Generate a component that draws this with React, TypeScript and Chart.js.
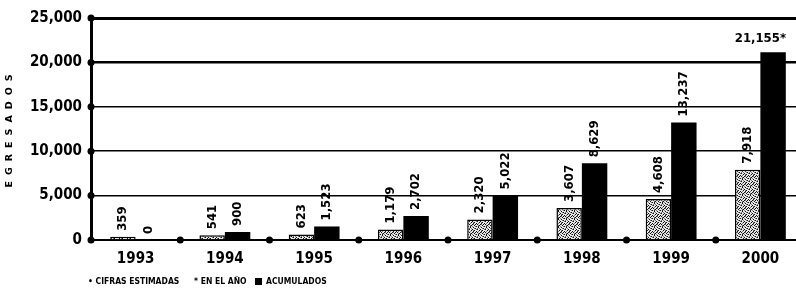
import React, { useEffect, useRef } from "react";
import { Chart, registerables } from "chart.js";

Chart.register(...registerables);

// ---- data ----
const years = ["1993", "1994", "1995", "1996", "1997", "1998", "1999", "2000"];
const enElAno = [359, 541, 623, 1179, 2320, 3607, 4608, 7918];
const acumulados = [0, 900, 1523, 2702, 5022, 8629, 13237, 21155];
const acumEstimado = [false, false, false, false, false, false, false, true];
const yTicks = [0, 5000, 10000, 15000, 20000, 25000];
const yTitle = "EGRESADOS";
const seriesNames = ["EN EL AÑO", "ACUMULADOS"];
const noteText = "CIFRAS ESTIMADAS";

const FONT = "'DejaVu Sans Condensed', 'Liberation Sans Narrow', 'DejaVu Sans', sans-serif";

function makePattern(): CanvasPattern | string {
  const c = document.createElement("canvas");
  c.width = 8;
  c.height = 8;
  const g = c.getContext("2d");
  if (!g) return "#999";
  g.fillStyle = "#e6e6e6";
  g.fillRect(0, 0, 8, 8);
  const dark = [
    [0, 0], [5, 0], [2, 1], [7, 1], [4, 2], [1, 3], [6, 3], [3, 4],
    [0, 5], [5, 5], [2, 6], [7, 6], [4, 7], [1, 7], [6, 2], [3, 0],
  ];
  const mid = [[1, 0], [6, 1], [3, 2], [0, 2], [5, 4], [2, 4], [7, 4], [4, 5], [1, 6], [6, 7]];
  g.fillStyle = "#111";
  dark.forEach(([x, y]) => g.fillRect(x, y, 1, 1));
  g.fillStyle = "#777";
  mid.forEach(([x, y]) => g.fillRect(x, y, 1, 1));
  const p = g.createPattern(c, "repeat");
  return p || "#999";
}

const fmt = (v: number) => v.toLocaleString("en-US");

const decorPlugin = {
  id: "decor",
  afterDraw(chart: any) {
    const { ctx, chartArea, scales } = chart;
    const x = scales.x;
    const y = scales.y;
    ctx.save();
    ctx.fillStyle = "#000";
    // dots on y axis at ticks
    yTicks.forEach((v) => {
      ctx.beginPath();
      ctx.arc(chartArea.left, y.getPixelForValue(v), 3.5, 0, Math.PI * 2);
      ctx.fill();
    });
    // dots on x axis at category boundaries
    for (let i = 1; i < years.length; i++) {
      const px = (x.getPixelForValue(i - 1) + x.getPixelForValue(i)) / 2;
      ctx.beginPath();
      ctx.arc(px, chartArea.bottom, 3.5, 0, Math.PI * 2);
      ctx.fill();
    }
    // axis title
    ctx.save();
    ctx.translate(10, (chartArea.top + chartArea.bottom) / 2 + 2);
    ctx.rotate(-Math.PI / 2);
    ctx.font = `bold 9.5px 'DejaVu Sans', sans-serif`;
    (ctx as any).letterSpacing = "6px";
    ctx.textAlign = "center";
    ctx.textBaseline = "middle";
    ctx.fillText(yTitle, 3, 0);
    ctx.restore();

    // bar value labels
    ctx.font = `bold 13px ${FONT}`;
    chart.data.datasets.forEach((ds: any, di: number) => {
      const meta = chart.getDatasetMeta(di);
      meta.data.forEach((bar: any, i: number) => {
        const v = ds.data[i] as number;
        const est = di === 1 && acumEstimado[i];
        const txt = fmt(v) + (est ? "*" : "");
        if (est) {
          ctx.textAlign = "center";
          ctx.textBaseline = "alphabetic";
          ctx.fillText(txt, x.getPixelForValue(i), bar.y - 10);
        } else {
          ctx.save();
          ctx.translate(bar.x, bar.y - 6);
          ctx.rotate(-Math.PI / 2);
          ctx.textAlign = "left";
          ctx.textBaseline = "middle";
          ctx.fillText(txt, 0, 0);
          ctx.restore();
        }
      });
    });
    ctx.restore();
  },
};

export default function App() {
  const ref = useRef<HTMLCanvasElement | null>(null);

  useEffect(() => {
    if (!ref.current) return;
    const pattern = makePattern();
    const chart = new Chart(ref.current, {
      type: "bar",
      data: {
        labels: years,
        datasets: [
          {
            label: seriesNames[0],
            data: enElAno,
            backgroundColor: pattern as any,
            borderColor: "#000",
            borderWidth: 1.5,
            categoryPercentage: 0.57,
            barPercentage: 1,
          },
          {
            label: seriesNames[1],
            data: acumulados,
            backgroundColor: "#000",
            borderColor: "#000",
            borderWidth: 0,
            categoryPercentage: 0.57,
            barPercentage: 1,
          },
        ],
      },
      options: {
        responsive: false,
        animation: false,
        events: [],
        layout: { padding: { top: 13, right: 1, left: 0, bottom: 0 } },
        plugins: {
          legend: { display: false },
          tooltip: { enabled: false },
          title: { display: false },
        },
        scales: {
          x: {
            grid: { display: false, drawTicks: false },
            border: { display: true, color: "#000", width: 2 },
            ticks: {
              color: "#000",
              font: { family: FONT, size: 15, weight: "bold" },
              padding: 10,
              maxRotation: 0,
            },
            afterFit: (s: any) => {
              s.height = 54;
            },
          },
          y: {
            min: 0,
            max: 25000,
            ticks: {
              stepSize: 5000,
              color: "#000",
              font: { family: FONT, size: 15, weight: "bold" },
              padding: 9,
              callback: (v: any) => fmt(Number(v)),
            },
            grid: {
              color: "#000",
              drawTicks: false,
              lineWidth: (c: any) =>
                c.tick && c.tick.value === 25000 ? 3 : c.tick && c.tick.value === 20000 ? 2.5 : 1.5,
            },
            border: { display: true, color: "#000", width: 3 },
            afterFit: (s: any) => {
              s.width = 91;
            },
          },
        },
      },
      plugins: [decorPlugin],
    });
    return () => chart.destroy();
  }, []);

  const legendFont: React.CSSProperties = {
    position: "absolute",
    top: 276,
    fontFamily: FONT,
    fontWeight: "bold",
    fontSize: "8.5px",
    lineHeight: "10px",
    color: "#000",
    whiteSpace: "nowrap",
  };

  return (
    <div
      style={{
        position: "fixed",
        left: 0,
        top: 0,
        width: 796,
        height: 294,
        overflow: "hidden",
        background: "#fff",
      }}
    >
      <canvas ref={ref} width={806} height={294} style={{ display: "block" }} />
      <div style={{ ...legendFont, left: 88 }}>• {noteText}</div>
      <div style={{ ...legendFont, left: 194 }}>* {seriesNames[0]}</div>
      <div style={{ ...legendFont, left: 255 }}>
        <span
          style={{
            display: "inline-block",
            width: 7,
            height: 7,
            background: "#000",
            marginRight: 4,
            verticalAlign: "-1px",
          }}
        />
        {seriesNames[1]}
      </div>
    </div>
  );
}
